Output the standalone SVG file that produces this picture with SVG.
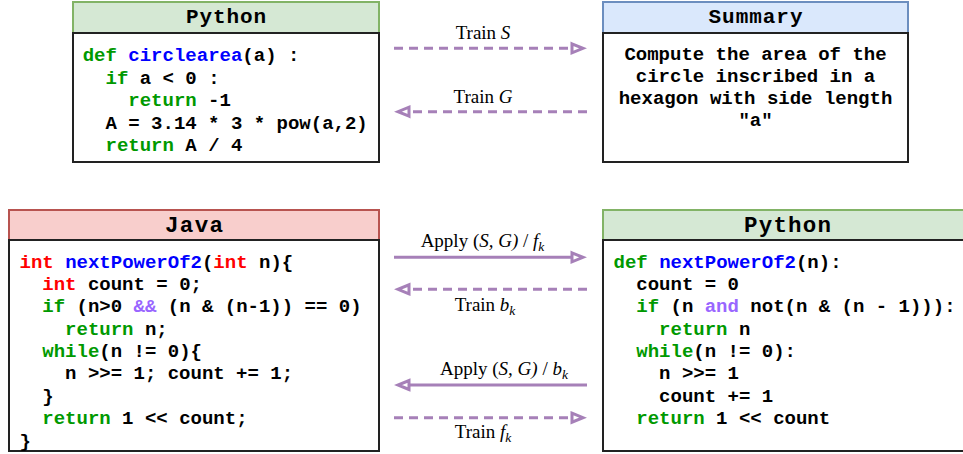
<svg xmlns="http://www.w3.org/2000/svg" width="963" height="454" viewBox="0 0 963 454">
<style>
.code{font-family:"Liberation Mono","Courier New",monospace;font-size:19px;font-weight:bold;fill:#000}
.hdr{font-family:"Liberation Mono","Courier New",monospace;font-size:21px;font-weight:bold;fill:#000;text-anchor:middle}
.hdr2{font-size:22.5px}
.g{fill:#009900}.b{fill:#0000ff}.r{fill:#ff0000}.p{fill:#9966ff}
.body{fill:#fff;stroke:#222;stroke-width:2}
.hg{fill:#d5e8d4;stroke:#82b366;stroke-width:2}
.hb{fill:#dae8fc;stroke:#6c8ebf;stroke-width:2}
.hr{fill:#f8cecc;stroke:#b85450;stroke-width:2}
.sum{text-anchor:middle}
.ln{fill:none;stroke:#a680b8;stroke-width:3;marker-end:url(#ah)}
.dash{stroke-dasharray:9 6}
.lbl{font-family:"Liberation Serif","Times New Roman",serif;font-size:19px;fill:#000;text-anchor:middle}
.i{font-style:italic}
.sub{font-style:italic;font-size:13.5px}
</style>
<defs>
<marker id="ah" markerUnits="userSpaceOnUse" viewBox="-3 -8 22 16" markerWidth="22" markerHeight="16" refX="0" refY="0" orient="auto" overflow="visible">
<path d="M0,-4.5 L11,0 L0,4.5 Z" fill="#fff" stroke="#a680b8" stroke-width="3"/>
</marker>
</defs>

<g id="node-python-top">
<rect class="hg" x="73" y="2" width="306" height="31"/>
<rect class="body" x="73" y="33" width="306" height="129"/>
<text class="hdr" x="226" y="23" textLength="80" lengthAdjust="spacing">Python</text>
<text class="code" x="82.7" y="61"><tspan class="g">def</tspan> <tspan class="b">circlearea</tspan>(a) :</text>
<text class="code" x="105.5" y="83.5"><tspan class="g">if</tspan> a &lt; 0 :</text>
<text class="code" x="128.3" y="106"><tspan class="g">return</tspan> -1</text>
<text class="code" x="105.5" y="128.5">A = 3.14 * 3 * pow(a,2)</text>
<text class="code" x="105.5" y="151"><tspan class="g">return</tspan> A / 4</text>
</g>

<g id="node-summary">
<rect class="hb" x="603" y="2" width="305" height="31"/>
<rect class="body" x="603" y="33" width="305" height="129"/>
<text class="hdr" x="755.5" y="23" textLength="94" lengthAdjust="spacing">Summary</text>
<text class="code sum" x="755.5" y="60">Compute the area of the</text>
<text class="code sum" x="755.5" y="82">circle inscribed in a</text>
<text class="code sum" x="755.5" y="104">hexagon with side length</text>
<text class="code sum" x="755.5" y="126">"a"</text>
</g>

<g id="node-java">
<rect class="hr" x="9" y="210" width="370" height="30"/>
<rect class="body" x="9" y="240" width="370" height="211"/>
<text class="hdr hdr2" x="194" y="232" textLength="58" lengthAdjust="spacing">Java</text>
<text class="code" x="19.5" y="267.5"><tspan class="r">int</tspan> <tspan class="b">nextPowerOf2</tspan>(<tspan class="r">int</tspan> n){</text>
<text class="code" x="42.3" y="290"><tspan class="r">int</tspan> count = 0;</text>
<text class="code" x="42.3" y="312.3"><tspan class="g">if</tspan> (n&gt;0 <tspan class="p">&amp;&amp;</tspan> (n &amp; (n-1)) == 0)</text>
<text class="code" x="65.1" y="334.7"><tspan class="g">return</tspan> n;</text>
<text class="code" x="42.3" y="357"><tspan class="g">while</tspan>(n != 0){</text>
<text class="code" x="65.1" y="379.4">n &gt;&gt;= 1; count += 1;</text>
<text class="code" x="42.3" y="401.8">}</text>
<text class="code" x="42.3" y="424.2"><tspan class="g">return</tspan> 1 &lt;&lt; count;</text>
<text class="code" x="19.5" y="446.6">}</text>
</g>

<g id="node-python-bottom">
<rect class="hg" x="603" y="210" width="370" height="30"/>
<rect class="body" x="603" y="240" width="370" height="211"/>
<text class="hdr hdr2" x="787.5" y="232" textLength="87" lengthAdjust="spacing">Python</text>
<text class="code" x="613.5" y="267.5"><tspan class="g">def</tspan> <tspan class="b">nextPowerOf2</tspan>(n):</text>
<text class="code" x="636.3" y="290">count = 0</text>
<text class="code" x="636.3" y="312.3"><tspan class="g">if</tspan> (n <tspan class="p">and</tspan> not(n &amp; (n - 1))):</text>
<text class="code" x="659.1" y="334.7"><tspan class="g">return</tspan> n</text>
<text class="code" x="636.3" y="357"><tspan class="g">while</tspan>(n != 0):</text>
<text class="code" x="659.1" y="379.4">n &gt;&gt;= 1</text>
<text class="code" x="659.1" y="401.8">count += 1</text>
<text class="code" x="636.3" y="424.2"><tspan class="g">return</tspan> 1 &lt;&lt; count</text>
</g>

<g id="connectors">
<path class="ln dash" d="M394,48.3 H572"/>
<text class="lbl" x="483" y="38.5">Train <tspan class="i">S</tspan></text>
<path class="ln dash" d="M587,111.7 H409"/>
<text class="lbl" x="483" y="103">Train <tspan class="i">G</tspan></text>
<path class="ln" d="M394,257.3 H572"/>
<text class="lbl" x="482.5" y="246.7">Apply (<tspan class="i">S, G)</tspan> / <tspan class="i">f</tspan><tspan class="sub" dy="4">k</tspan></text>
<path class="ln dash" d="M587,289.3 H409"/>
<text class="lbl" x="485" y="310.7">Train <tspan class="i">b</tspan><tspan class="sub" dy="4">k</tspan></text>
<path class="ln" d="M587,385 H409"/>
<text class="lbl" x="504" y="375">Apply (<tspan class="i">S, G)</tspan> / <tspan class="i">b</tspan><tspan class="sub" dy="4">k</tspan></text>
<path class="ln dash" d="M394,417.7 H572"/>
<text class="lbl" x="483" y="438.3">Train <tspan class="i">f</tspan><tspan class="sub" dy="4">k</tspan></text>
</g>
</svg>
